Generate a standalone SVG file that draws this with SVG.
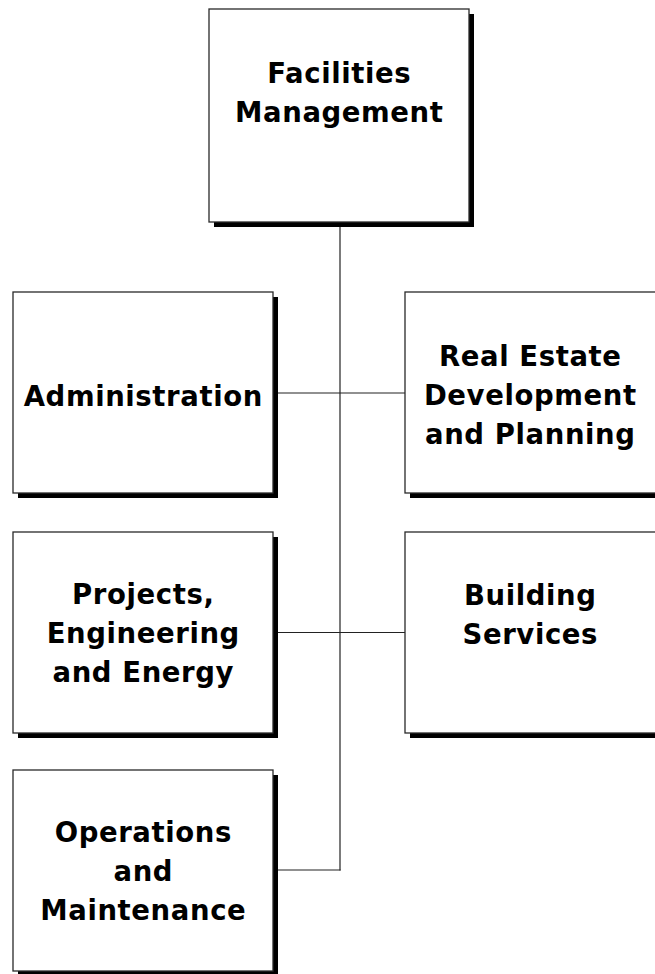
<svg xmlns="http://www.w3.org/2000/svg" width="655" height="974" viewBox="0 0 655 974">
<style>
.shadow{fill:#000}
.box{fill:#fff;stroke:#2a2a2a;stroke-width:1.3}
.lbl{font-family:"DejaVu Sans","Liberation Sans",sans-serif;font-weight:bold;font-size:27.5px;letter-spacing:0.6px;fill:#000;text-anchor:middle}
.conn{stroke:#222;stroke-width:1.2;fill:none}
</style>
<rect width="655" height="974" fill="#fff"/>
<g id="connectors">
<line class="conn" x1="340" y1="227" x2="340" y2="870.5"/>
<line class="conn" x1="278" y1="393" x2="405" y2="393"/>
<line class="conn" x1="278" y1="632.5" x2="405" y2="632.5"/>
<line class="conn" x1="278" y1="870" x2="340.6" y2="870"/>
</g>
<g id="facilities-management">
<rect class="shadow" x="214" y="14" width="260" height="213"/>
<rect class="box" x="209" y="9" width="260" height="213"/>
<text class="lbl" x="339.3" y="83">Facilities</text>
<text class="lbl" x="339.3" y="122">Management</text>
</g>
<g id="administration">
<rect class="shadow" x="18" y="297" width="260" height="201"/>
<rect class="box" x="13" y="292" width="260" height="201"/>
<text class="lbl" x="143.3" y="406">Administration</text>
</g>
<g id="real-estate">
<rect class="shadow" x="410" y="297" width="260" height="201"/>
<rect class="box" x="405" y="292" width="260" height="201"/>
<text class="lbl" x="530.3" y="366">Real Estate</text>
<text class="lbl" x="530.3" y="405">Development</text>
<text class="lbl" x="530.3" y="444">and Planning</text>
</g>
<g id="projects">
<rect class="shadow" x="18" y="537" width="260" height="201"/>
<rect class="box" x="13" y="532" width="260" height="201"/>
<text class="lbl" x="143.3" y="604">Projects,</text>
<text class="lbl" x="143.3" y="643">Engineering</text>
<text class="lbl" x="143.3" y="682">and Energy</text>
</g>
<g id="building-services">
<rect class="shadow" x="410" y="537" width="260" height="201"/>
<rect class="box" x="405" y="532" width="260" height="201"/>
<text class="lbl" x="530.3" y="605">Building</text>
<text class="lbl" x="530.3" y="644">Services</text>
</g>
<g id="operations">
<rect class="shadow" x="18" y="775" width="260" height="201"/>
<rect class="box" x="13" y="770" width="260" height="201"/>
<text class="lbl" x="143.3" y="842">Operations</text>
<text class="lbl" x="143.3" y="881">and</text>
<text class="lbl" x="143.3" y="920">Maintenance</text>
</g>
</svg>
